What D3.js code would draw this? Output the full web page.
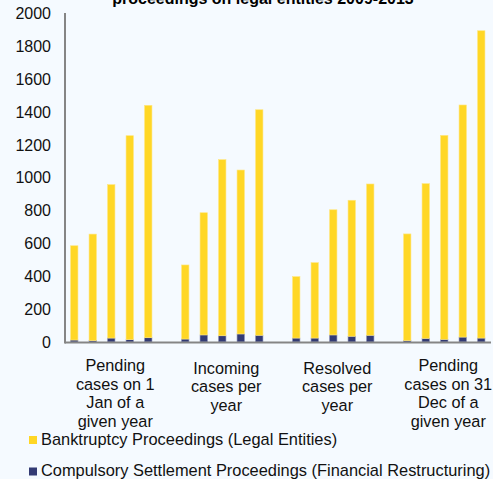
<!DOCTYPE html>
<html>
<head>
<meta charset="utf-8">
<script src="https://cdn.jsdelivr.net/npm/d3@7"></script>
<style>
  body { margin: 0; background: #F5FAFF; }
  svg { display: block; font-family: "Liberation Sans", Arial, sans-serif; }
</style>
</head>
<body>
<div id="chart"></div>
<script>
let width = 493;
let height = 479;

// categories on the x axis (wrapped as in the original)
let categories = ["pending1Jan", "incoming", "resolved", "pending31Dec"];
let categoryLines = [
    ["Pending", "cases on 1", "Jan of a", "given year"],
    ["Incoming", "cases per", "year"],
    ["Resolved", "cases per", "year"],
    ["Pending", "cases on 31", "Dec of a", "given year"]
];
let years = ["2009", "2010", "2011", "2012", "2013"];

// values per category, one per year
let bankruptcy = [
    [574, 649, 934, 1242, 1415],
    [451, 744, 1072, 998, 1373],
    [374, 459, 762, 828, 921],
    [650, 942, 1242, 1413, 1871]
];
let compulsory = [
    [12, 8, 24, 14, 26],
    [18, 43, 38, 49, 41],
    [24, 24, 43, 35, 41],
    [8, 22, 16, 30, 24]
];
let yTicks = [0, 200, 400, 600, 800, 1000, 1200, 1400, 1600, 1800, 2000];

let seriesNames = {
    bankruptcy: "Banktruptcy Proceedings (Legal Entities)",
    compulsory: "Compulsory Settlement Proceedings (Financial Restructuring)"
};

let colors = d3.scaleOrdinal()
    .domain(["compulsory", "bankruptcy"])
    .range(["#333B74", "#FFD726"]);

let svg = d3.select("#chart")
    .append("svg")
    .attr("width", width)
    .attr("height", height);

svg.append("rect")
    .attr("width", width)
    .attr("height", height)
    .attr("fill", "#F5FAFF");

// title - only the bottom of its last line shows in the picture
svg.append("text")
    .attr("x", 263)
    .attr("y", 3.5)
    .attr("text-anchor", "middle")
    .attr("font-size", 16)
    .attr("font-weight", "bold")
    .text("proceedings on legal entities  2009-2013");

let slot = 18.5;
let left = 65;

let x0 = d3.scaleBand()
    .domain(categories)
    .range([left, left + slot * 6 * categories.length]);

let x1 = d3.scaleBand()
    .domain(years)
    .range([0, slot * years.length])
    .paddingInner(0.6)
    .paddingOuter(0.3);

let y = d3.scaleLinear()
    .domain([0, 2000])
    .range([342, 13.5]);

// flatten into rows so d3.stack can work on them
let rows = [];
categories.forEach(function (c, i) {
    years.forEach(function (yr, j) {
        rows.push({cat: c, year: yr, compulsory: compulsory[i][j], bankruptcy: bankruptcy[i][j]});
    });
});

let stacked = d3.stack().keys(["compulsory", "bankruptcy"])(rows);

// y axis labels
let yAxis = d3.axisLeft(y)
    .tickValues(yTicks)
    .tickFormat(d3.format("d"))
    .tickSize(0)
    .tickPadding(14);

let gy = svg.append("g")
    .attr("transform", "translate(" + left + ",0)")
    .call(yAxis);
gy.select(".domain").remove();
gy.selectAll("text")
    .attr("font-size", 16)
    .attr("font-family", "Liberation Sans, Arial, sans-serif")
    .attr("fill", "#111");

// bars
svg.append("g")
    .selectAll("g")
    .data(stacked)
    .join("g")
    .attr("fill", d => colors(d.key))
    .selectAll("rect")
    .data(d => d)
    .join("rect")
    .attr("x", d => x0(d.data.cat) + x1(d.data.year))
    .attr("width", x1.bandwidth())
    .attr("y", d => y(d[1]))
    .attr("height", d => y(d[0]) - y(d[1]))
    .attr("stroke", function (d) {
        return d3.select(this.parentNode).datum().key === "bankruptcy" ? "#FFE680" : "#8A90B8";
    })
    .attr("stroke-width", 0.6);

// axis lines
svg.append("line")
    .attr("x1", left).attr("x2", left)
    .attr("y1", y(2000) - 0.5).attr("y2", y(0) + 1.5)
    .attr("stroke", "#858585")
    .attr("stroke-width", 2);

svg.append("line")
    .attr("x1", left).attr("x2", 491)
    .attr("y1", y(0) + 0.5).attr("y2", y(0) + 0.5)
    .attr("stroke", "#858585")
    .attr("stroke-width", 2);

// category labels (four-line labels sit a little higher)
let groupWidth = slot * years.length;
svg.append("g")
    .selectAll("text")
    .data(categories)
    .join("text")
    .attr("text-anchor", "middle")
    .attr("font-size", 16.3)
    .attr("fill", "#111")
    .attr("transform", (d, i) => "translate(" + (x0(d) + groupWidth / 2 + 4) + "," +
        (373.5 - (categoryLines[i].length - 3) * 2.5) + ")")
    .each(function (d, i) {
        d3.select(this).selectAll("tspan")
            .data(categoryLines[i])
            .join("tspan")
            .attr("x", 0)
            .attr("y", (t, k) => k * 18.7)
            .text(t => t);
    });

// legend
let legendKeys = ["bankruptcy", "compulsory"];
let legend = svg.append("g")
    .selectAll("g")
    .data(legendKeys)
    .join("g")
    .attr("transform", (d, i) => "translate(29," + (436 + i * 31.5) + ")");

legend.append("rect")
    .attr("width", 8)
    .attr("height", 8)
    .attr("fill", d => colors(d));

legend.append("text")
    .attr("x", 12)
    .attr("y", 8.5)
    .attr("font-size", 16.4)
    .attr("fill", "#111")
    .text(d => seriesNames[d]);
</script>
</body>
</html>
